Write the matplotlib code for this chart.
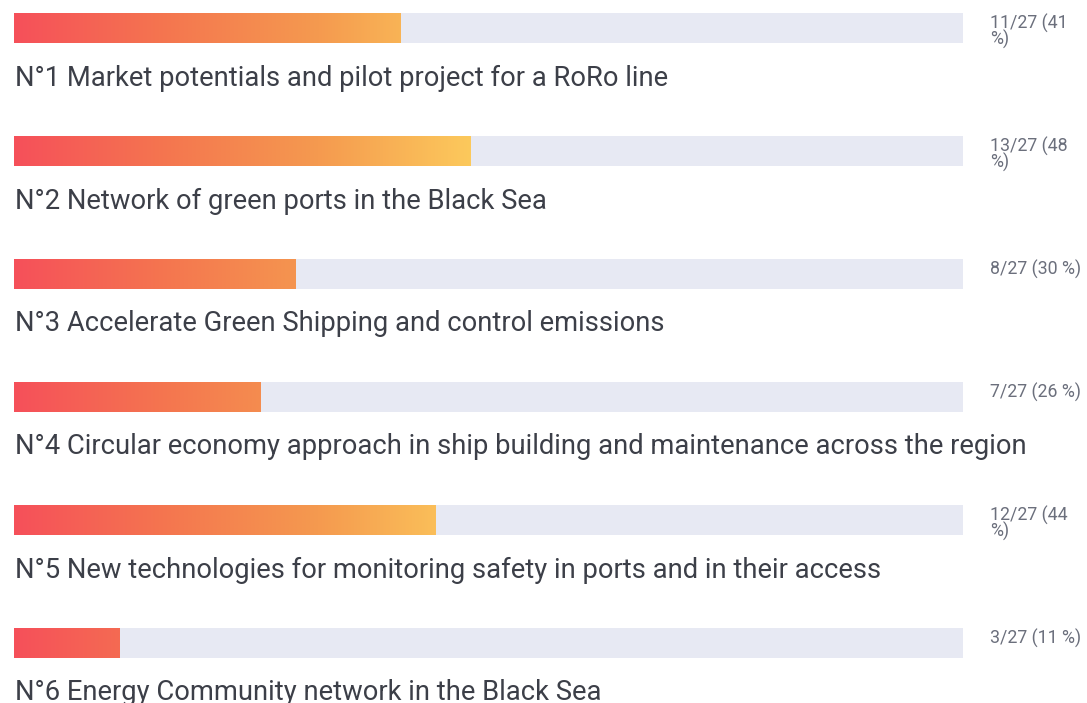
import numpy as np
import matplotlib
matplotlib.use("Agg")
import matplotlib.pyplot as plt
from matplotlib.colors import LinearSegmentedColormap
from matplotlib.patches import Rectangle

labels = [
    "N°1 Market potentials and pilot project for a RoRo line",
    "N°2 Network of green ports in the Black Sea",
    "N°3 Accelerate Green Shipping and control emissions",
    "N°4 Circular economy approach in ship building and maintenance across the region",
    "N°5 New technologies for monitoring safety in ports and in their access",
    "N°6 Energy Community network in the Black Sea",
]
counts = [11, 13, 8, 7, 12, 3]
total = 27
value_texts = ["11/27 (41\n%)", "13/27 (48\n%)", "8/27 (30 %)", "7/27 (26 %)", "12/27 (44\n%)", "3/27 (11 %)"]

W, H = 1087, 703
fig = plt.figure(figsize=(W / 100, H / 100), dpi=100)
ax = fig.add_axes([14 / W, 0, (963 - 14) / W, 1])
pitch = 123.0
top = -28 / pitch
ax.set_xlim(0, 1)
ax.set_ylim(top + H / pitch, top)
ax.axis("off")

cmap = LinearSegmentedColormap.from_list("g", ["#f6505a", "#f4764f", "#f59a4f", "#fcc95c"])
bar_h = 30 / pitch
fracs = [c / total for c in counts]
gmax = max(fracs)
grad = np.linspace(0, 1, 256).reshape(1, -1)

for i, (lab, f, vt) in enumerate(zip(labels, fracs, value_texts)):
    ax.add_patch(Rectangle((0, i - bar_h / 2), 1, bar_h, facecolor="#e7e9f3", edgecolor="none", zorder=1))
    im = ax.imshow(grad, cmap=cmap, aspect="auto", extent=(0, gmax, i + bar_h / 2, i - bar_h / 2),
                   zorder=2, interpolation="bilinear")
    clip = Rectangle((0, i - bar_h / 2), f, bar_h, transform=ax.transData)
    im.set_clip_path(clip)
    ax.text(0.001, i + 50 / pitch, lab, fontsize=19.7, family="Roboto",
            color="#3c3f48", va="center", ha="left")
    ax.text(1 + 27 / 949, i - 14 / pitch, vt, fontsize=12.8, family="Roboto", color="#6b6f7c",
            va="top", ha="left", linespacing=0.8)

ax.set_xlim(0, 1)
ax.set_ylim(top + H / pitch, top)
fig.savefig("out.png", dpi=100)
